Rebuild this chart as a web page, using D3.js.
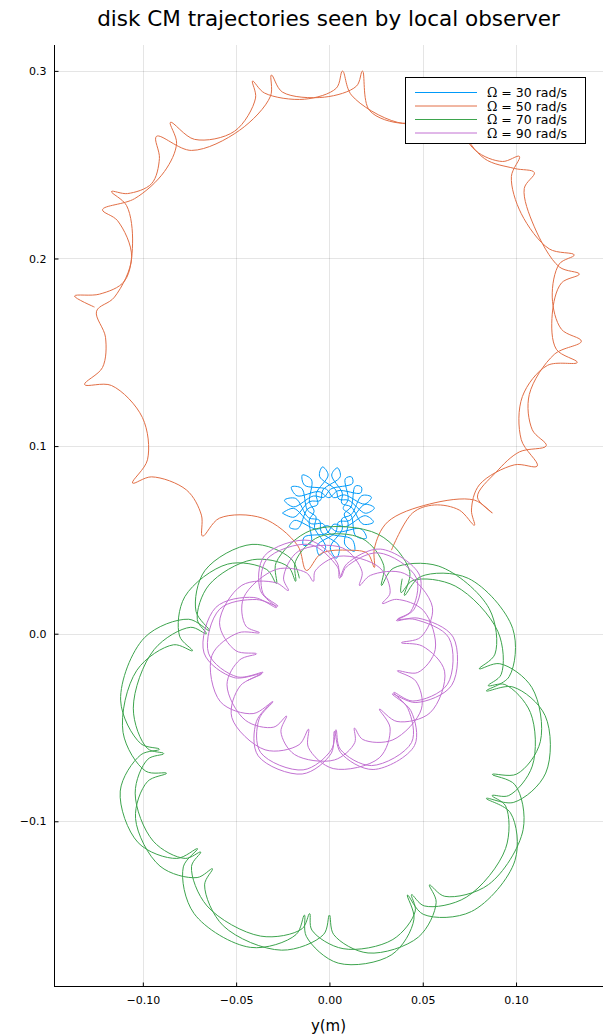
<!DOCTYPE html>
<html>
<head>
<meta charset="utf-8">
<script src="https://cdn.jsdelivr.net/npm/d3@7"></script>
<style>
  body { margin: 0; background: #fff; }
  svg { display: block; }
  text { font-family: "DejaVu Sans", sans-serif; fill: #000; }
</style>
</head>
<body>
<svg id="chart" width="603" height="1036"></svg>
<script>
// Legend labels and series colours
const seriesLabels = ["Ω = 30 rad/s", "Ω = 50 rad/s", "Ω = 70 rad/s", "Ω = 90 rad/s"];
const seriesColors = ["#009af9", "#e26f46", "#3da44d", "#c271d2"];

// Tick values
const xTicks = [-0.10, -0.05, 0.00, 0.05, 0.10];
const yTicks = [-0.1, 0.0, 0.1, 0.2, 0.3];

// Disk centre-of-mass trajectories, [y, z] in metres
const omega30 = [
  [-0.0252,0.0643],[-0.0192,0.0668],
  [-0.0097,0.0586],[-0.0035,0.0587],[-0.0001,0.0535],
  [0.0121,0.0503],[0.0134,0.0439],[0.0082,0.0478],
  [0.0100,0.0590],[0.0079,0.0638],[0.0116,0.0676],
  [0.0139,0.0787],[0.0171,0.0782],[0.0167,0.0750],
  [0.0046,0.0762],[-0.0003,0.0725],[-0.0055,0.0757],
  [-0.0174,0.0735],[-0.0204,0.0782],[-0.0149,0.0775],
  [-0.0118,0.0659],[-0.0072,0.0623],[-0.0080,0.0566],
  [-0.0020,0.0461],[-0.0054,0.0418],[-0.0065,0.0471],
  [0.0033,0.0540],[0.0049,0.0596],[0.0107,0.0603],
  [0.0190,0.0689],[0.0241,0.0670],[0.0193,0.0642],
  [0.0103,0.0711],[0.0051,0.0717],[0.0034,0.0766],
  [-0.0053,0.0839],[-0.0037,0.0889],[-0.0007,0.0846],
  [-0.0071,0.0747],[-0.0063,0.0689],[-0.0117,0.0665],
  [-0.0169,0.0560],[-0.0214,0.0568],[-0.0187,0.0604],
  [-0.0068,0.0557],[-0.0010,0.0576],[0.0042,0.0543],
  [0.0169,0.0559],[0.0198,0.0509],[0.0141,0.0521],
  [0.0116,0.0631],[0.0074,0.0667],[0.0100,0.0715],
  [0.0085,0.0826],[0.0118,0.0836],[0.0124,0.0801],
  [0.0007,0.0771],[-0.0030,0.0727],[-0.0086,0.0734],
  [-0.0192,0.0676],[-0.0241,0.0712],[-0.0181,0.0721],
  [-0.0113,0.0619],[-0.0053,0.0604],[-0.0044,0.0543],
  [0.0052,0.0467],[0.0037,0.0402],[0.0005,0.0460],
  [0.0069,0.0557],[0.0066,0.0612],[0.0117,0.0635],
  [0.0174,0.0736],[0.0225,0.0728],[0.0189,0.0691],
  [0.0079,0.0740],[0.0022,0.0725],[-0.0016,0.0770],
  [-0.0134,0.0792],[-0.0145,0.0846],[-0.0096,0.0820],
  [-0.0107,0.0702],[-0.0082,0.0653],[-0.0108,0.0605],
  [-0.0098,0.0487],[-0.0139,0.0471],[-0.0135,0.0515],
  [-0.0014,0.0536],[0.0024,0.0584],[0.0084,0.0570],
  [0.0192,0.0629],[0.0236,0.0595],[0.0180,0.0584],
  [0.0116,0.0676],[0.0066,0.0695],[0.0069,0.0749],
  [0.0012,0.0846],[0.0043,0.0884],[0.0058,0.0837],
  [-0.0035,0.0766],[-0.0049,0.0710],[-0.0107,0.0704],
  [-0.0190,0.0621],[-0.0252,0.0643]
];

const omega50 = [
  [0.0332,0.0445],[0.0445,0.0643],[0.0562,0.0686],[0.0696,0.0659],[0.0777,0.0578],
  [0.0761,0.0659],[0.0803,0.0793],[0.0991,0.0900],[0.1114,0.0894],
  [0.1028,0.1034],[0.1034,0.1264],[0.1168,0.1430],[0.1328,0.1446],
  [0.1216,0.1516],[0.1194,0.1703],[0.1243,0.1869],[0.1339,0.1917],
  [0.1232,0.1955],[0.1098,0.2169],[0.1044,0.2373],[0.1098,0.2458],
  [0.0991,0.2480],[0.0830,0.2533],[0.0712,0.2694],[0.0702,0.2849],
  [0.0589,0.2737],[0.0364,0.2726],[0.0118,0.2871],[0.0070,0.2999],
  [0.0037,0.2908],[-0.0134,0.2849],[-0.0348,0.2882],[-0.0412,0.2946],
  [-0.0396,0.2855],[-0.0509,0.2678],[-0.0723,0.2635],[-0.0852,0.2726],
  [-0.0819,0.2614],[-0.0884,0.2464],[-0.1044,0.2319],[-0.1216,0.2260],
  [-0.1135,0.2201],[-0.1060,0.2009],[-0.1152,0.1794],[-0.1248,0.1719],
  [-0.1200,0.1580],[-0.1216,0.1419],[-0.1312,0.1328],
  [-0.1168,0.1323],[-0.1002,0.1152],[-0.0975,0.0927],[-0.1055,0.0803],
  [-0.0953,0.0836],[-0.0766,0.0766],[-0.0686,0.0632],[-0.0680,0.0520],
  [-0.0589,0.0616],[-0.0359,0.0616],[-0.0171,0.0471],[-0.0123,0.0337],
  [-0.0043,0.0428],[0.0107,0.0445],[0.0204,0.0428],[0.0241,0.0353],
  [0.0241,0.0455],[0.0311,0.0595],[0.0536,0.0691],[0.0777,0.0712],[0.0873,0.0643],
  [0.0793,0.0728],[0.0894,0.0862],[0.1018,0.0969],[0.1162,0.1002],
  [0.1087,0.1087],[0.1071,0.1275],[0.1205,0.1489],[0.1350,0.1559],
  [0.1243,0.1623],[0.1194,0.1794],[0.1232,0.1971],[0.1312,0.2019],
  [0.1178,0.2051],[0.1028,0.2239],[0.0975,0.2437],[0.1018,0.2544],
  [0.0927,0.2517],[0.0782,0.2576],[0.0670,0.2758],[0.0621,0.2892],
  [0.0509,0.2758],[0.0391,0.2721],[0.0214,0.2790],[0.0177,0.2999],
  [0.0145,0.2919],[-0.0027,0.2860],[-0.0252,0.2887],[-0.0311,0.2978],
  [-0.0316,0.2865],[-0.0482,0.2683],[-0.0739,0.2576],[-0.0927,0.2651],
  [-0.0911,0.2533],[-0.0953,0.2399],[-0.1082,0.2346],[-0.1168,0.2357],
  [-0.1087,0.2282],[-0.1055,0.2078],[-0.1098,0.1880],[-0.1232,0.1810],
  [-0.1366,0.1800],[-0.1259,0.1741]
];

const omega70 = [
  [-0.0161,0.0295],
  [-0.0205,0.0399],[-0.0415,0.0476],[-0.0667,0.0337],[-0.0715,0.0119],[-0.0643,0.0016],
  [-0.0754,0.0077],[-0.0991,-0.0021],[-0.1119,-0.0354],[-0.1011,-0.0586],[-0.0911,-0.0616],
  [-0.1010,-0.0645],[-0.1121,-0.0839],[-0.1025,-0.1114],[-0.0818,-0.1198],[-0.0707,-0.1146],
  [-0.0783,-0.1243],[-0.0726,-0.1491],[-0.0424,-0.1672],[-0.0179,-0.1604],[-0.0134,-0.1500],
  [-0.0124,-0.1613],[0.0047,-0.1756],[0.0334,-0.1711],[0.0453,-0.1522],[0.0418,-0.1393],
  [0.0503,-0.1496],[0.0761,-0.1481],[0.0994,-0.1210],[0.0970,-0.0955],[0.0841,-0.0878],
  [0.0988,-0.0899],[0.1159,-0.0743],[0.1156,-0.0437],[0.0983,-0.0284],[0.0841,-0.0305],
  [0.0963,-0.0229],[0.0982,0.0028],[0.0744,0.0295],[0.0488,0.0304],[0.0402,0.0204],
  [0.0430,0.0332],[0.0263,0.0529],[-0.0096,0.0552],[-0.0286,0.0378],[-0.0284,0.0268],
  [-0.0336,0.0342],[-0.0545,0.0371],[-0.0775,0.0197],[-0.0803,-0.0013],[-0.0734,-0.0091],
  [-0.0835,-0.0059],[-0.1032,-0.0195],[-0.1106,-0.0526],[-0.0984,-0.0733],[-0.0873,-0.0744],
  [-0.0975,-0.0788],[-0.1039,-0.0986],[-0.0908,-0.1239],[-0.0709,-0.1300],[-0.0627,-0.1253],
  [-0.0669,-0.1339],[-0.0569,-0.1557],[-0.0256,-0.1687],[-0.0031,-0.1603],[0.0000,-0.1500],
  [0.0023,-0.1604],[0.0207,-0.1702],[0.0477,-0.1617],[0.0572,-0.1432],[0.0536,-0.1339],
  [0.0618,-0.1400],[0.0853,-0.1337],[0.1038,-0.1044],[0.0994,-0.0805],[0.0873,-0.0750],
  [0.1004,-0.0748],[0.1130,-0.0576],[0.1085,-0.0287],[0.0913,-0.0160],[0.0803,-0.0187],
  [0.0887,-0.0109],[0.0856,0.0134],[0.0586,0.0360],[0.0341,0.0348],[0.0279,0.0257],
  [0.0291,0.0364],[0.0176,0.0507],[-0.0055,0.0517],[-0.0182,0.0385],[-0.0181,0.0279],
  [-0.0222,0.0358],[-0.0413,0.0394],[-0.0646,0.0259],[-0.0708,0.0075],[-0.0660,0.0000],
  [-0.0744,0.0034],[-0.0939,-0.0084],[-0.1051,-0.0397],[-0.0975,-0.0612],[-0.0888,-0.0639],
  [-0.0973,-0.0669],[-0.1041,-0.0850],[-0.0944,-0.1106],[-0.0773,-0.1198],[-0.0690,-0.1164],
  [-0.0739,-0.1240],[-0.0656,-0.1451],[-0.0369,-0.1612],[-0.0147,-0.1573],[-0.0106,-0.1492],
  [-0.0094,-0.1580],[0.0073,-0.1679],[0.0340,-0.1630],[0.0460,-0.1478],[0.0440,-0.1391],
  [0.0508,-0.1451],[0.0733,-0.1405],[0.0944,-0.1145],[0.0944,-0.0918],[0.0872,-0.0863],
  [0.0961,-0.0863],[0.1087,-0.0706],[0.1077,-0.0420],[0.0940,-0.0271],[0.0851,-0.0277],
  [0.0920,-0.0218],[0.0903,0.0011],[0.0674,0.0254],[0.0448,0.0284],[0.0384,0.0219],
  [0.0390,0.0293]
];

const omega90 = [
  [-0.0311,-0.0370],
  [-0.0391,-0.0467],[-0.0382,-0.0651],[-0.0146,-0.0748],[0.0010,-0.0637],[0.0027,-0.0520],
  [0.0060,-0.0634],[0.0234,-0.0724],[0.0456,-0.0596],[0.0436,-0.0410],[0.0337,-0.0321],
  [0.0463,-0.0367],[0.0655,-0.0275],[0.0663,-0.0018],[0.0475,0.0083],[0.0359,0.0070],
  [0.0452,0.0128],[0.0483,0.0312],[0.0273,0.0451],[0.0092,0.0371],[0.0054,0.0295],
  [0.0042,0.0377],[-0.0108,0.0497],[-0.0349,0.0414],[-0.0370,0.0230],[-0.0284,0.0139],
  [-0.0405,0.0193],[-0.0609,0.0140],[-0.0672,-0.0103],[-0.0512,-0.0234],[-0.0364,-0.0214],
  [-0.0478,-0.0278],[-0.0523,-0.0447],[-0.0345,-0.0619],[-0.0163,-0.0592],[-0.0112,-0.0509],
  [-0.0113,-0.0606],[0.0020,-0.0719],[0.0267,-0.0662],[0.0325,-0.0502],[0.0268,-0.0402],
  [0.0362,-0.0468],[0.0540,-0.0421],[0.0617,-0.0200],[0.0498,-0.0066],[0.0386,-0.0048],
  [0.0489,-0.0019],[0.0552,0.0141],[0.0401,0.0321],[0.0220,0.0311],[0.0161,0.0257],
  [0.0175,0.0330],[0.0071,0.0457],[-0.0167,0.0439],[-0.0246,0.0297],[-0.0220,0.0230],
  [-0.0288,0.0272],[-0.0469,0.0258],[-0.0589,0.0058],[-0.0501,-0.0091],[-0.0391,-0.0107],
  [-0.0480,-0.0139],[-0.0549,-0.0272],[-0.0451,-0.0461],[-0.0298,-0.0498],[-0.0230,-0.0439],
  [-0.0260,-0.0523],[-0.0187,-0.0644],[0.0027,-0.0673],[0.0136,-0.0580],[0.0134,-0.0503],
  [0.0179,-0.0564],[0.0340,-0.0566],[0.0493,-0.0401],[0.0463,-0.0253],[0.0364,-0.0198],
  [0.0473,-0.0207],[0.0567,-0.0084],[0.0505,0.0122],[0.0359,0.0183],[0.0284,0.0161],
  [0.0325,0.0217],[0.0270,0.0351],[0.0052,0.0413],[-0.0076,0.0335],[-0.0086,0.0279],
  [-0.0124,0.0325],[-0.0284,0.0343],[-0.0460,0.0192],[-0.0448,0.0041],[-0.0375,0.0005],
  [-0.0487,0.0005],[-0.0630,-0.0117],[-0.0585,-0.0362],[-0.0409,-0.0426],[-0.0303,-0.0362],
  [-0.0377,-0.0455],[-0.0369,-0.0633],[-0.0141,-0.0726],[0.0010,-0.0619],[0.0035,-0.0512],
  [0.0058,-0.0616],[0.0226,-0.0703],[0.0440,-0.0580],[0.0421,-0.0400],[0.0345,-0.0313],
  [0.0447,-0.0359],[0.0632,-0.0270],[0.0640,-0.0022],[0.0458,0.0076],[0.0367,0.0078],
  [0.0436,0.0119],[0.0466,0.0297],[0.0263,0.0431],[0.0089,0.0354],[0.0062,0.0303],
  [0.0041,0.0359],[-0.0104,0.0475],[-0.0337,0.0395],[-0.0357,0.0217],[-0.0276,0.0147],
  [-0.0391,0.0182],[-0.0588,0.0131],[-0.0648,-0.0104],[-0.0494,-0.0230],[-0.0356,-0.0206],
  [-0.0440,-0.0250]
];

const series = [omega30, omega50, omega70, omega90];

// Plot frame
const plotLeft = 54, plotRight = 603, plotTop = 45, plotBottom = 986;
const xDomain = [-0.1476, 0.1466];
const yDomain = [-0.1878, 0.3138];

const svg = d3.select("#chart");
const x = d3.scaleLinear().domain(xDomain).range([plotLeft, plotRight]);
const y = d3.scaleLinear().domain(yDomain).range([plotBottom, plotTop]);

svg.append("defs").append("clipPath").attr("id", "plotClip")
  .append("rect").attr("x", plotLeft).attr("y", plotTop)
  .attr("width", plotRight - plotLeft).attr("height", plotBottom - plotTop);

// Grid
const grid = svg.append("g").attr("stroke", "#000").attr("stroke-opacity", 0.1).attr("stroke-width", 1);
grid.selectAll("line.gx").data(xTicks).join("line")
  .attr("x1", d => Math.round(x(d)) + 0.5).attr("x2", d => Math.round(x(d)) + 0.5)
  .attr("y1", plotTop).attr("y2", plotBottom);
grid.selectAll("line.gy").data(yTicks).join("line")
  .attr("y1", d => Math.round(y(d)) + 0.5).attr("y2", d => Math.round(y(d)) + 0.5)
  .attr("x1", plotLeft).attr("x2", plotRight);

// Trajectories
const line = d3.line().x(d => x(d[0])).y(d => y(d[1])).curve(d3.curveCatmullRom.alpha(0.5));
svg.append("g").attr("clip-path", "url(#plotClip)")
  .selectAll("path").data(series).join("path")
  .attr("d", line)
  .attr("fill", "none")
  .attr("stroke", (d, i) => seriesColors[i])
  .attr("stroke-width", 1)
  .attr("stroke-linejoin", "round");

// Axes
const fmtX = v => (v < 0 ? "\u2212" : "") + Math.abs(v).toFixed(2);
const fmtY = v => (v < 0 ? "\u2212" : "") + Math.abs(v).toFixed(1);

const xAxis = d3.axisBottom(x).tickValues(xTicks).tickFormat(fmtX).tickSize(-4).tickPadding(10);
const yAxis = d3.axisLeft(y).tickValues(yTicks).tickFormat(fmtY).tickSize(-4).tickPadding(8);

const gx = svg.append("g").attr("transform", `translate(0,${plotBottom + 0.5})`).call(xAxis);
const gy = svg.append("g").attr("transform", `translate(${plotLeft + 0.5},0)`).call(yAxis);
[gx, gy].forEach(g => {
  g.select(".domain").attr("stroke", "#000").attr("stroke-width", 1);
  g.selectAll(".tick line").attr("stroke", "#000");
  g.selectAll(".tick text").attr("font-size", 11).attr("font-family", '"DejaVu Sans", sans-serif').attr("fill", "#000");
});
gx.select(".domain").attr("d", `M${plotLeft},0H${plotRight}`);
gy.select(".domain").attr("d", `M0,${plotBottom}V${plotTop}`);

// Title and axis label
svg.append("text").attr("x", (plotLeft + plotRight) / 2).attr("y", 26)
  .attr("text-anchor", "middle").attr("font-size", 21.5)
  .text("disk CM trajectories seen by local observer");
svg.append("text").attr("x", (plotLeft + plotRight) / 2).attr("y", 1031)
  .attr("text-anchor", "middle").attr("font-size", 15)
  .text("y(m)");

// Legend (the Ω symbol is set in a serif face)
const legend = svg.append("g");
legend.append("rect").attr("x", 405.5).attr("y", 77.5).attr("width", 180).attr("height", 66)
  .attr("fill", "#fff").attr("stroke", "#000").attr("stroke-width", 1);
const rowY = [92.5, 106, 119.5, 133];
seriesLabels.forEach((lab, i) => {
  legend.append("line").attr("x1", 415).attr("x2", 477).attr("y1", rowY[i]).attr("y2", rowY[i])
    .attr("stroke", seriesColors[i]).attr("stroke-width", 1);
  const t = legend.append("text").attr("x", 487).attr("y", rowY[i]).attr("dy", "0.36em")
    .attr("font-size", 12.5);
  t.append("tspan").attr("font-family", '"DejaVu Serif", serif').text(lab.slice(0, 1));
  t.append("tspan").text(lab.slice(1));
});
</script>
</body>
</html>
